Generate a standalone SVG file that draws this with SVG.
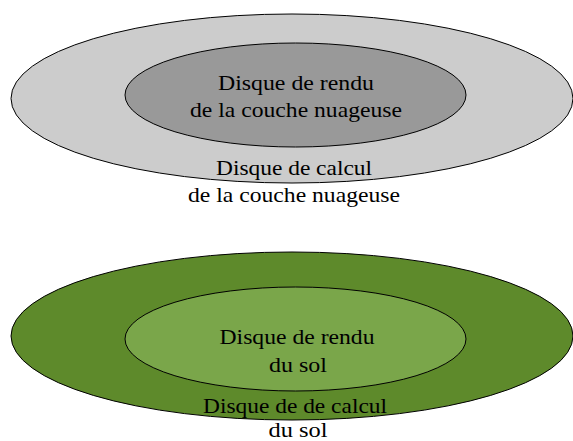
<svg xmlns="http://www.w3.org/2000/svg" width="573" height="441" viewBox="0 0 573 441">
  <style>
    .disk { stroke: #000000; stroke-width: 1; }
    .lbl { font-family: 'Liberation Serif', 'Times New Roman', Times, serif; font-size: 22px; fill: #000000; text-anchor: middle; }
  </style>
  <rect x="0" y="0" width="573" height="441" fill="#ffffff"/>
  <g id="calcul-nuage">
    <ellipse class="disk" cx="292" cy="98.5" rx="281" ry="84.5" fill="#cccccc"/>
  </g>
  <g id="rendu-nuage">
    <ellipse class="disk" cx="295.5" cy="95" rx="170.5" ry="52" fill="#999999"/>
    <text class="lbl" x="296" y="90" textLength="156" lengthAdjust="spacingAndGlyphs">Disque de rendu</text>
    <text class="lbl" x="296" y="117" textLength="212" lengthAdjust="spacingAndGlyphs">de la couche nuageuse</text>
  </g>
  <g id="calcul-nuage-label">
    <text class="lbl" x="294" y="175" textLength="156" lengthAdjust="spacingAndGlyphs">Disque de calcul</text>
    <text class="lbl" x="294" y="202" textLength="212" lengthAdjust="spacingAndGlyphs">de la couche nuageuse</text>
  </g>
  <g id="calcul-sol">
    <ellipse class="disk" cx="292" cy="336" rx="281" ry="84" fill="#5e8a2b"/>
  </g>
  <g id="rendu-sol">
    <ellipse class="disk" cx="295.5" cy="339" rx="170.5" ry="52" fill="#7aa64a"/>
    <text class="lbl" x="297" y="344" textLength="155" lengthAdjust="spacingAndGlyphs">Disque de rendu</text>
    <text class="lbl" x="298" y="372" textLength="58" lengthAdjust="spacingAndGlyphs">du sol</text>
  </g>
  <g id="calcul-sol-label">
    <text class="lbl" x="295" y="413" textLength="184" lengthAdjust="spacingAndGlyphs">Disque de de calcul</text>
    <text class="lbl" x="298" y="437" textLength="59" lengthAdjust="spacingAndGlyphs">du sol</text>
  </g>
  <g id="connectors"/>
</svg>
